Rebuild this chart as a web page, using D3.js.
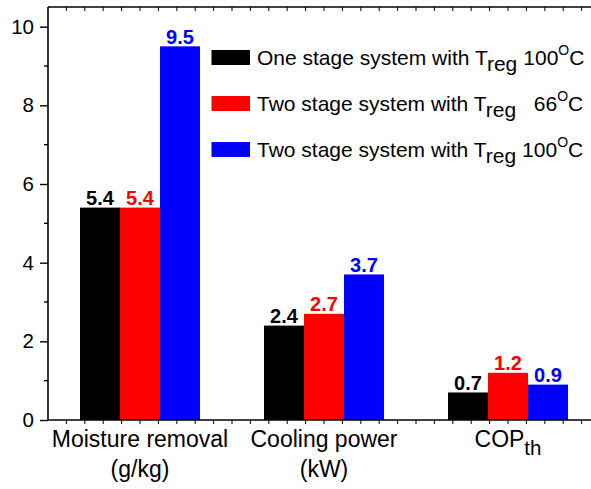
<!DOCTYPE html>
<html><head><meta charset="utf-8">
<script src="https://cdn.jsdelivr.net/npm/d3@7"></script>
<style>
body{margin:0;background:#fff}
svg{display:block}
text{font-family:"Liberation Sans",Arial,Helvetica,sans-serif}
</style>
</head><body>
<script>
// Categories and their second-line units / subscripts
const categories = ["Moisture removal", "Cooling power", "COP"];
const categorySubs = ["", "", "th"];
const categoryUnits = ["(g/kg)", "(kW)", ""];

// Series
const seriesNames = ["One stage system with T", "Two stage system with T", "Two stage system with T"];
const seriesTemps = ["100", "66", "100"];
const seriesColors = ["#000000", "#ff0000", "#0000ff"];
const oneStage100 = [5.4, 2.4, 0.7];
const twoStage66 = [5.4, 2.7, 1.2];
const twoStage100 = [9.5, 3.7, 0.9];
const seriesValues = [oneStage100, twoStage66, twoStage100];

// Axis ticks
const yTicks = [0, 2, 4, 6, 8, 10];
const yMinorTicks = [1, 3, 5, 7, 9];

const W = 591, H = 489;
const x0 = 48, x1 = 600, yTop = 7, yBottom = 420;

const svg = d3.select("body").append("svg").attr("width", W).attr("height", H);

const y = d3.scaleLinear().domain([0, 10.5]).range([yBottom, yTop]);
const xGroup = d3.scaleBand().domain(categories).range([x0, x1])
  .paddingInner(0.348).paddingOuter(0.174);
const xSeries = d3.scaleBand().domain(d3.range(seriesValues.length)).range([0, xGroup.bandwidth()]);
const xLin = d3.scaleLinear().domain([0.5, categories.length + 0.5]).range([x0, x1]);

// Bars
const groups = svg.append("g").selectAll("g").data(categories).join("g")
  .attr("transform", d => `translate(${xGroup(d)},0)`);

groups.each(function (cat, ci) {
  const g = d3.select(this);
  seriesValues.forEach((vals, si) => {
    const v = vals[ci];
    g.append("rect")
      .attr("x", xSeries(si))
      .attr("y", y(v))
      .attr("width", xSeries.bandwidth())
      .attr("height", y(0) - y(v))
      .attr("fill", seriesColors[si]);
    g.append("text")
      .attr("x", xSeries(si) + xSeries.bandwidth() / 2)
      .attr("y", y(v) - 2.5)
      .attr("text-anchor", "middle")
      .attr("font-size", 20)
      .attr("font-weight", "bold")
      .attr("fill", seriesColors[si])
      .text(v.toFixed(1));
  });
});

// Frame lines
const axisColor = "#000";
svg.append("line").attr("x1", x0).attr("x2", x1).attr("y1", yBottom).attr("y2", yBottom)
  .attr("stroke", axisColor).attr("stroke-width", 1.6);
svg.append("line").attr("x1", x0).attr("x2", x1).attr("y1", yTop).attr("y2", yTop)
  .attr("stroke", axisColor).attr("stroke-width", 1.6);

// Minor ticks along bottom (outward) and top (inward)
const xMinor = d3.range(6, categories.length * 10 + 5).map(k => k / 10);
svg.append("g").selectAll("line").data(xMinor).join("line")
  .attr("x1", d => xLin(d)).attr("x2", d => xLin(d))
  .attr("y1", yBottom).attr("y2", yBottom + 4)
  .attr("stroke", axisColor).attr("stroke-width", 1);
svg.append("g").selectAll("line").data(xMinor).join("line")
  .attr("x1", d => xLin(d)).attr("x2", d => xLin(d))
  .attr("y1", yTop).attr("y2", yTop + 4)
  .attr("stroke", axisColor).attr("stroke-width", 1);

// Left axis
const yAxis = d3.axisLeft(y).tickValues(yTicks).tickSize(8).tickPadding(6).tickSizeOuter(0);
const gy = svg.append("g").attr("transform", `translate(${x0},0)`).call(yAxis);
gy.select(".domain").attr("stroke-width", 1.6).attr("d", `M0,${yTop}V${yBottom}`);
gy.selectAll(".tick line").attr("stroke-width", 1.4);
gy.selectAll(".tick text").attr("font-size", 20.5).attr("fill", "#000");
svg.append("g").selectAll("line").data(yMinorTicks).join("line")
  .attr("x1", x0 - 4).attr("x2", x0)
  .attr("y1", d => y(d)).attr("y2", d => y(d))
  .attr("stroke", axisColor).attr("stroke-width", 1.4);

// Category labels
categories.forEach((cat, ci) => {
  const cx = xGroup(cat) + xGroup.bandwidth() / 2;
  const t = svg.append("text").attr("x", cx).attr("y", 447)
    .attr("text-anchor", "middle").attr("font-size", 23).attr("fill", "#000");
  t.append("tspan").text(cat);
  if (categorySubs[ci]) {
    t.append("tspan").attr("dy", 8).attr("font-size", 20.5).text(categorySubs[ci]);
  }
  if (categoryUnits[ci]) {
    svg.append("text").attr("x", cx).attr("y", 477)
      .attr("text-anchor", "middle").attr("font-size", 23).attr("fill", "#000")
      .text(categoryUnits[ci]);
  }
});

// Legend
const legend = svg.append("g");
seriesNames.forEach((name, si) => {
  const ly = 50 + 46 * si;
  legend.append("rect").attr("x", 211.5).attr("y", ly).attr("width", 38.5).attr("height", 15)
    .attr("fill", seriesColors[si]);
  const t = legend.append("text").attr("x", 257).attr("y", ly + 15)
    .attr("font-size", 21).attr("fill", "#000");
  t.append("tspan").text(name);
  t.append("tspan").attr("dy", 6).text("reg");
  const pad = 6 + (3 - seriesTemps[si].length) * 11.7;
  t.append("tspan").attr("dy", -6).attr("dx", pad).text(seriesTemps[si]);
  t.append("tspan").attr("dy", -10).attr("font-size", 14).text("O");
  t.append("tspan").attr("dy", 10).text("C");
});
</script>
</body></html>
